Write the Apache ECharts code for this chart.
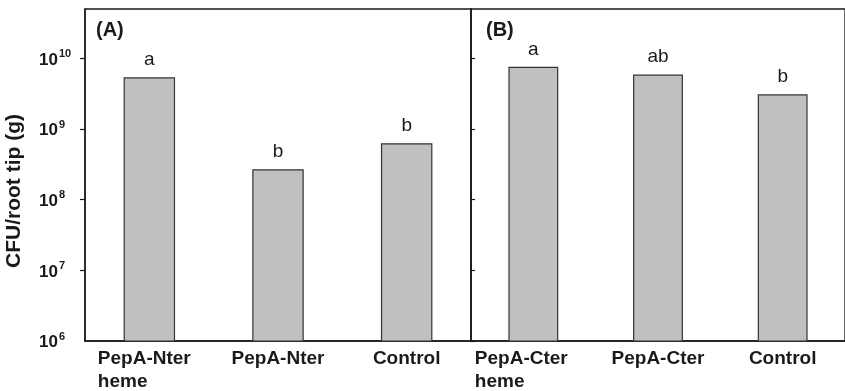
<!DOCTYPE html>
<html>
<head>
<meta charset="utf-8">
<script src="https://cdn.jsdelivr.net/npm/echarts@6/dist/echarts.min.js"></script>
<style>
html,body{margin:0;padding:0;background:#fff;}
#chart{width:845px;height:391px;}
</style>
</head>
<body>
<div id="chart"></div>
<script>
var categoriesA = ['PepA-Nter\nheme', 'PepA-Nter', 'Control'];
var valuesA = [5.4e9, 2.7e8, 6.3e8];
var lettersA = ['a', 'b', 'b'];
var categoriesB = ['PepA-Cter\nheme', 'PepA-Cter', 'Control'];
var valuesB = [7.6e9, 5.9e9, 3.1e9];
var lettersB = ['a', 'ab', 'b'];
var yMin = 1e6;
var yMax = 5e10;
var yTicks = [1e6, 1e7, 1e8, 1e9, 1e10];
var yTitle = 'CFU/root tip (g)';
var panelLabels = ['(A)', '(B)'];

var FONT = '"Liberation Sans", Arial, Helvetica, sans-serif';
var INK = '#1a1a1a';

function catFormatter(width) {
  return function (v) {
    if (v.indexOf('\n') >= 0) {
      return v.split('\n').map(function (s) { return '{l|' + s + '}'; }).join('\n');
    }
    return '{c|' + v + '}';
  };
}
function catRich(width) {
  return {
    l: { width: width, align: 'left', fontSize: 19, fontWeight: 'bold', fontFamily: FONT, color: INK, lineHeight: 23 },
    c: { fontSize: 19, fontWeight: 'bold', fontFamily: FONT, color: INK, lineHeight: 23 }
  };
}
function yLabelFormatter(v) {
  var l = Math.log10(v);
  var e = Math.round(l);
  if (Math.abs(l - e) > 1e-6) return '';
  return '{b|10}{s|' + e + '}';
}

var chart = echarts.init(document.getElementById('chart'), null, { renderer: 'canvas' });
chart.setOption({
  animation: false,
  backgroundColor: '#fff',
  textStyle: { fontFamily: FONT },
  title: [
    { text: panelLabels[0], left: 91, top: 15, textStyle: { fontSize: 20, fontWeight: 'bold', color: INK, fontFamily: FONT } },
    { text: panelLabels[1], left: 481, top: 15, textStyle: { fontSize: 20, fontWeight: 'bold', color: INK, fontFamily: FONT } }
  ],
  grid: [
    { left: 85, right: 374, top: 9, bottom: 50, show: true, borderColor: INK, borderWidth: 1.3, backgroundColor: 'transparent' },
    { left: 471, right: -12, top: 9, bottom: 50, show: true, borderColor: INK, borderWidth: 1.3, backgroundColor: 'transparent' }
  ],
  xAxis: [
    {
      gridIndex: 0, type: 'category', data: categoriesA,
      axisLine: { lineStyle: { color: INK, width: 1.5 } },
      axisTick: { show: false },
      axisLabel: { margin: 6, interval: 0, formatter: catFormatter(103), rich: catRich(103) }
    },
    {
      gridIndex: 1, type: 'category', data: categoriesB,
      axisLine: { lineStyle: { color: INK, width: 1.5 } },
      axisTick: { show: false },
      axisLabel: { margin: 6, interval: 0, formatter: catFormatter(117), rich: catRich(117) }
    }
  ],
  yAxis: [
    {
      gridIndex: 0, type: 'log', logBase: 10, min: yMin, max: yMax,
      name: yTitle, nameLocation: 'middle', nameGap: 60, nameRotate: 90,
      nameTextStyle: { fontSize: 21, fontWeight: 'bold', color: INK, fontFamily: FONT, padding: [0, 32, 0, 0] },
      axisLine: { show: true, lineStyle: { color: INK, width: 1.5 } },
      axisTick: { show: true, inside: false, length: 5, customValues: yTicks, lineStyle: { color: INK, width: 1.2 } },
      splitLine: { show: false },
      axisLabel: {
        margin: 46, align: 'left', formatter: yLabelFormatter,
        rich: {
          b: { fontSize: 17, fontWeight: 'bold', fontFamily: FONT, color: INK, verticalAlign: 'bottom', lineHeight: 20 },
          s: { fontSize: 11, fontWeight: 'bold', fontFamily: FONT, color: INK, verticalAlign: 'top', lineHeight: 11, padding: [0, 0, 0, 1] }
        }
      }
    },
    {
      gridIndex: 1, type: 'log', logBase: 10, min: yMin, max: yMax,
      axisLine: { show: true, lineStyle: { color: INK, width: 1.5 } },
      axisTick: { show: true, inside: true, length: 4, customValues: yTicks, lineStyle: { color: INK, width: 1.2 } },
      splitLine: { show: false },
      axisLabel: { show: false }
    }
  ],
  series: [
    {
      type: 'bar', xAxisIndex: 0, yAxisIndex: 0, data: valuesA, barWidth: '40%',
      itemStyle: { color: '#c0c0c0', borderColor: '#333', borderWidth: 1.2 },
      label: { show: true, position: 'top', distance: 8, fontSize: 19, color: INK, fontFamily: FONT,
        formatter: function (p) { return lettersA[p.dataIndex]; } }
    },
    {
      type: 'bar', xAxisIndex: 1, yAxisIndex: 1, data: valuesB, barWidth: '40%',
      itemStyle: { color: '#c0c0c0', borderColor: '#333', borderWidth: 1.2 },
      label: { show: true, position: 'top', distance: 8, fontSize: 19, color: INK, fontFamily: FONT,
        formatter: function (p) { return lettersB[p.dataIndex]; } }
    }
  ]
});
</script>
</body>
</html>
